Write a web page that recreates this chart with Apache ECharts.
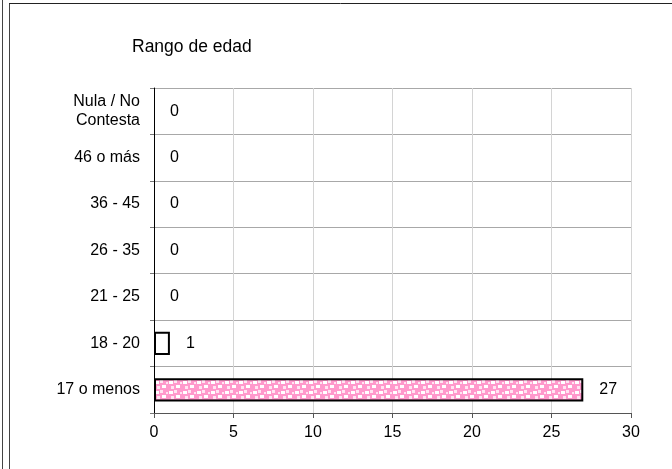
<!DOCTYPE html>
<html><head><meta charset="utf-8">
<script src="https://cdn.jsdelivr.net/npm/echarts@6/dist/echarts.min.js"></script>
<style>html,body{margin:0;padding:0;background:#fff}#c{width:672px;height:469px}</style>
</head><body><div id="c"></div>
<script>
const categories = ['17 o menos', '18 - 20', '21 - 25', '26 - 35', '36 - 45', '46 o más', 'Nula / No\nContesta'];
const values = [27, 1, 0, 0, 0, 0, 0];
const xTicks = [0, 5, 10, 15, 20, 25, 30];
const titleText = 'Rango de edad';

function makePattern() {
  const c = document.createElement('canvas');
  c.width = 14; c.height = 10;
  const g = c.getContext('2d');
  g.fillStyle = '#ff99cc'; g.fillRect(0, 0, 14, 10);
  g.fillStyle = '#ffffff';
  g.fillRect(1, 1, 4, 3);
  g.fillRect(8, 5, 4, 3);
  g.fillStyle = '#ffe4f1';
  g.fillRect(6, 0, 3, 3);
  g.fillRect(3, 6, 3, 3);
  g.fillRect(12, 2, 2, 2);
  return c;
}
const pattern = { image: makePattern(), repeat: 'repeat' };

const chart = echarts.init(document.getElementById('c'), null, { renderer: 'canvas' });
const font = 'Liberation Sans, Arial, sans-serif';
chart.setOption({
  animation: false,
  textStyle: { fontFamily: font },
  title: { text: titleText, left: 127, top: 33, textStyle: { fontSize: 17.5, fontWeight: 'normal', color: '#000', fontFamily: font } },
  grid: { left: 154, right: 41, top: 88, bottom: 56, containLabel: false },
  xAxis: {
    type: 'value', min: 0, max: 30, interval: 5,
    axisLine: { show: true, lineStyle: { color: '#555', width: 1 } },
    axisTick: { show: true, length: 5, lineStyle: { color: '#555' } },
    axisLabel: { color: '#000', fontSize: 16, margin: 12, fontFamily: font,
      formatter: v => xTicks.includes(v) ? String(v) : '' },
    splitLine: { show: true, lineStyle: { color: '#d4d4d4', width: 1 } }
  },
  yAxis: {
    type: 'category', data: categories,
    axisLine: { show: true, lineStyle: { color: '#000', width: 1 } },
    axisTick: { show: true, length: 4, alignWithLabel: false, lineStyle: { color: '#777' } },
    axisLabel: { color: '#000', fontSize: 16, margin: 14, lineHeight: 19, fontFamily: font },
    splitLine: { show: true, lineStyle: { color: '#a8a8a8', width: 1 } }
  },
  series: [{
    type: 'bar', data: values.map((v, i) => ({
      value: v,
      itemStyle: v === 0 ? { color: 'transparent', borderWidth: 0 } : (i === 0 ? { color: pattern } : { color: '#fff' })
    })),
    barWidth: '50%',
    itemStyle: { borderColor: '#000', borderWidth: 2 },
    label: { show: true, position: 'right', distance: 16, color: '#000', fontSize: 16, fontFamily: font }
  }],
  graphic: [
    { type: 'line', shape: { x1: 2.5, y1: 0, x2: 2.5, y2: 469 }, style: { stroke: '#444', lineWidth: 1 } },
    { type: 'line', shape: { x1: 9.5, y1: 3, x2: 9.5, y2: 469 }, style: { stroke: '#444', lineWidth: 1 } },
    { type: 'line', shape: { x1: 9, y1: 3.5, x2: 672, y2: 3.5 }, style: { stroke: '#222', lineWidth: 1 } }
  ]
});
</script></body></html>
